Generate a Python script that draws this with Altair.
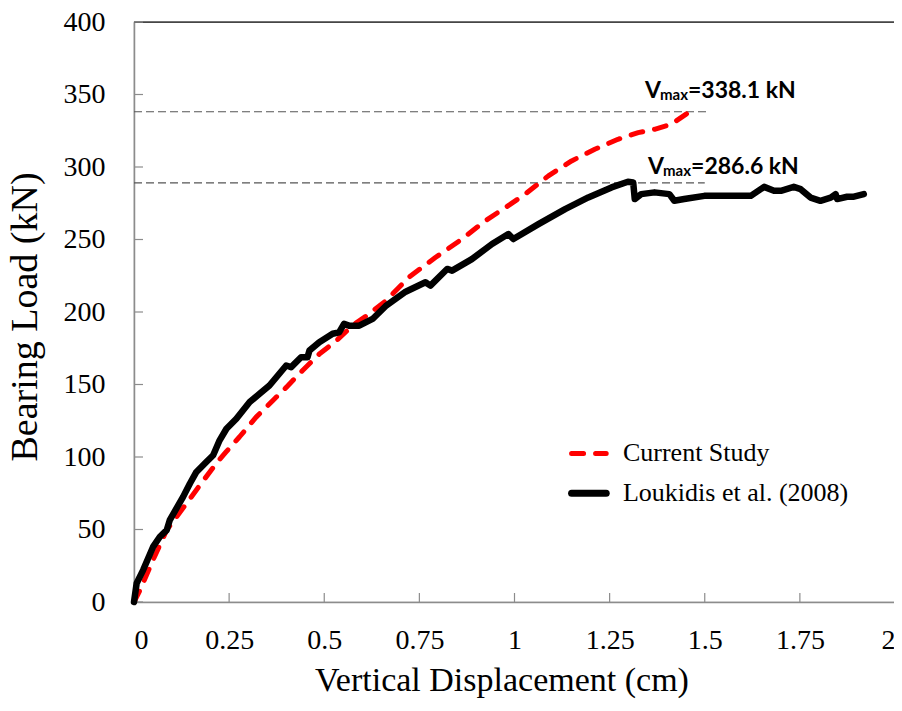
import altair as alt
import pandas as pd

# ---- data ----
cur_x = [0, 0.016, 0.05, 0.086, 0.138, 0.173, 0.216, 0.242, 0.277, 0.321, 0.365, 0.40, 0.443,
         0.487, 0.531, 0.574, 0.618, 0.661, 0.722, 0.792, 0.862, 0.923, 0.976, 1.028, 1.089,
         1.15, 1.211, 1.272, 1.325, 1.368, 1.412, 1.46]
cur_y = [0, 8.3, 29, 49.6, 68, 80.5, 95.5, 103.5, 113.8, 127.5, 139, 148, 159.7,
         171, 180, 190.6, 198.7, 207.5, 223.9, 237.6, 250.3, 262.9, 272, 281.3, 293.9,
         304.2, 312.2, 319.1, 323.7, 326, 329.5, 338.1]

lou_x = [0, 0.007, 0.024, 0.05, 0.068, 0.086, 0.094, 0.129, 0.147, 0.164, 0.19, 0.208, 0.225,
         0.243, 0.269, 0.304, 0.33, 0.356, 0.40, 0.413, 0.439, 0.456, 0.461, 0.487, 0.522,
         0.539, 0.552, 0.565, 0.592, 0.627, 0.661, 0.714, 0.766, 0.779, 0.823, 0.836, 0.888,
         0.941, 0.984, 0.997, 1.063, 1.133, 1.194, 1.255, 1.298, 1.312, 1.316, 1.333, 1.368,
         1.407, 1.42, 1.446, 1.499, 1.569, 1.621, 1.656, 1.682, 1.70, 1.734, 1.752, 1.778,
         1.804, 1.831, 1.844, 1.848, 1.874, 1.892, 1.918]
lou_y = [0, 12.9, 22, 38, 45, 49.6, 56.5, 72.5, 81.7, 89.7, 96.6, 101.2, 111.5,
         119.5, 126.4, 137.9, 143.6, 149.3, 163.1, 162, 168.8, 168.8, 173.4, 179.2, 185,
         186, 191.8, 190.6, 190.6, 195.2, 204, 214, 220.5, 218.2, 229.7, 228.5, 236.5,
         246.9, 253.8, 250.3, 260.6, 271, 279, 285.9, 289.8, 289.3, 277.9, 281.3, 282.5,
         281.3, 276.7, 277.9, 280.1, 280.1, 280.1, 286.3, 283.6, 283.6, 286.3, 284.7, 278.9,
         276.7, 278.9, 281.3, 277.9, 279.5, 279.5, 281.3]

series_names = ["Current Study", "Loukidis et al. (2008)"]
x_ticks = [0, 0.25, 0.5, 0.75, 1, 1.25, 1.5, 1.75, 2]
y_ticks = [0, 50, 100, 150, 200, 250, 300, 350, 400]

ref_levels = [338.1, 289.0]
ref_x_end = [1.51, 1.50]
ann_x = [1.343, 1.351]
ann_y = [347.8, 295.0]
ann_text = ["=338.1 kN", "=286.6 kN"]

leg_x = [1.15, 1.241]
leg_text_x = 1.285
leg_y = [102.5, 75.0]

# ---- build tables ----
cur_df = pd.DataFrame({"x": cur_x, "y": cur_y})
lou_df = pd.DataFrame({"x": lou_x, "y": lou_y})
ref_df = pd.DataFrame({"x": [0, 0], "x2": ref_x_end, "y": ref_levels})
ann_df = pd.DataFrame({"x": ann_x, "y": ann_y, "t": ann_text})
leg_df = pd.DataFrame({"x": [leg_x[0]] * 2, "x2": [leg_x[1]] * 2, "tx": [leg_text_x] * 2,
                       "y": leg_y, "name": series_names})
xt_df = pd.DataFrame({"x": x_ticks})
yt_df = pd.DataFrame({"y": y_ticks})

W, H = 761, 580
SERIF = "Liberation Serif"
xs = alt.Scale(domain=[0, 2], nice=False, zero=False)
ys = alt.Scale(domain=[0, 400], nice=False, zero=False)

x_axis = alt.Axis(values=x_ticks, labelExpr="'' + datum.value", title="Vertical Displacement (cm)",
                  grid=False, ticks=False, tickSize=0,
                  labelPadding=24, titleX=367.5, titleY=88, titleAlign="center",
                  titleBaseline="alphabetic", titleFontSize=34)
y_axis = alt.Axis(values=y_ticks, format="d", title="Bearing Load (kN)",
                  grid=False, ticks=False, tickSize=0,
                  labelPadding=29, titleX=-98, titleY=294.5, titleAngle=270,
                  titleAlign="center", titleBaseline="alphabetic", titleFontSize=38)

X = alt.X("x:Q", scale=xs, axis=x_axis)
Y = alt.Y("y:Q", scale=ys, axis=y_axis)

ref = alt.Chart(ref_df).mark_rule(color="#555555", strokeWidth=1.2, strokeDash=[8, 4]).encode(
    x=X, x2="x2:Q", y=Y)

top_border = alt.Chart(pd.DataFrame({"y": [400]})).mark_rule(color="#000000", strokeWidth=1.2).encode(
    y=Y, x=alt.value(0), x2=alt.value(W))

xticks = alt.Chart(xt_df).mark_rule(color="#8c8c8c", strokeWidth=1.2).encode(
    x=X, y=alt.value(H - 9), y2=alt.value(H))
yticks = alt.Chart(yt_df).mark_rule(color="#8c8c8c", strokeWidth=1.2).encode(
    y=Y, x=alt.value(0), x2=alt.value(9))

red = alt.Chart(cur_df).mark_line(color="#ff0000", strokeWidth=5, strokeDash=[12, 12],
                                  strokeCap="round", strokeJoin="round").encode(
    x=X, y=Y, order="x:Q")
black = alt.Chart(lou_df).mark_line(color="#000000", strokeWidth=6.5,
                                    strokeCap="round", strokeJoin="round").encode(
    x=X, y=Y, order="x:Q")

ANN_FONT = "Lato"
ann_v = alt.Chart(ann_df).mark_text(font=ANN_FONT, fontWeight="bold", fontSize=23,
                                    align="left", baseline="alphabetic", color="#000").encode(
    x=X, y=Y, text=alt.value("V"))
ann_sub = alt.Chart(ann_df).mark_text(font=ANN_FONT, fontWeight="bold", fontSize=15,
                                      align="left", baseline="alphabetic", dx=15, dy=2,
                                      color="#000").encode(
    x=X, y=Y, text=alt.value("max"))
ann_rest = alt.Chart(ann_df).mark_text(font=ANN_FONT, fontWeight="bold", fontSize=23,
                                       align="left", baseline="alphabetic", dx=43,
                                       color="#000").encode(
    x=X, y=Y, text="t:N")

leg_red = alt.Chart(leg_df.iloc[[0]]).mark_rule(color="#ff0000", strokeWidth=5,
                                                strokeDash=[12, 12], strokeCap="round").encode(
    x=X, x2="x2:Q", y=Y)
leg_black = alt.Chart(leg_df.iloc[[1]]).mark_rule(color="#000000", strokeWidth=7,
                                                  strokeCap="round").encode(
    x=X, x2="x2:Q", y=Y)
leg_text = alt.Chart(leg_df).mark_text(font=SERIF, fontSize=26, align="left",
                                       baseline="middle", color="#000").encode(
    x=alt.X("tx:Q", scale=xs, axis=x_axis), y=Y, text="name:N")

chart = alt.layer(
    ref, top_border, xticks, yticks, red, black, ann_v, ann_sub, ann_rest,
    leg_red, leg_black, leg_text
).properties(
    width=W, height=H,
    background="white",
    autosize=alt.AutoSizeParams(type="none"),
    padding={"left": 126, "top": 14, "right": 886 - 126 - W, "bottom": 692 - 14 - H},
).configure_view(
    stroke="#8c8c8c", strokeWidth=1.2
).configure_axis(
    grid=False, ticks=False, tickSize=0,
    domainColor="#8c8c8c", domainWidth=1.5,
    labelFont=SERIF, labelFontSize=28, labelColor="#000",
    titleFont=SERIF, titleFontWeight="normal", titleColor="#000",
)

chart.save("out.html", embed_options={"renderer": "svg", "actions": False})
